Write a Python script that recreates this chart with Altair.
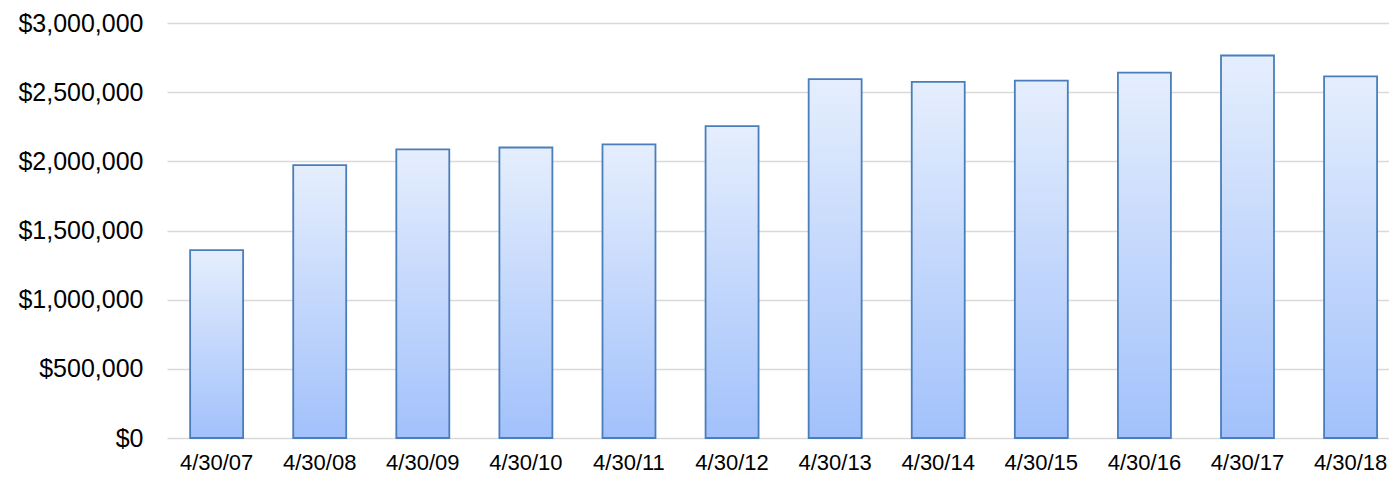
import altair as alt
import pandas as pd

# values
dates = ["4/30/07", "4/30/08", "4/30/09", "4/30/10", "4/30/11", "4/30/12",
         "4/30/13", "4/30/14", "4/30/15", "4/30/16", "4/30/17", "4/30/18"]
amounts = [1358000, 1973000, 2086000, 2100000, 2122000, 2254000,
           2595000, 2574000, 2584000, 2641000, 2765000, 2614000]
y_ticks = [0, 500000, 1000000, 1500000, 2000000, 2500000, 3000000]

df = pd.DataFrame({"date": dates, "amount": amounts})

fill = alt.Gradient(
    gradient="linear",
    stops=[
        alt.GradientStop(color="#e5eefd", offset=0),
        alt.GradientStop(color="#a2c1fb", offset=1),
    ],
    x1=0, y1=0, x2=0, y2=1,
)

chart = alt.Chart(df).mark_bar(
    color=fill,
    stroke="#4a7ebb",
    strokeWidth=1.8,
).encode(
    x=alt.X(
        "date:N",
        sort=None,
        title=None,
        scale=alt.Scale(paddingInner=0.486, paddingOuter=0.17, align=0.66),
        axis=alt.Axis(
            labelAngle=0,
            labelFont="Liberation Sans",
            labelFontSize=22,
            labelColor="#000000",
            labelPadding=14,
            ticks=False,
            domain=False,
            grid=False,
        ),
    ),
    y=alt.Y(
        "amount:Q",
        title=None,
        scale=alt.Scale(domain=[0, 3000000], nice=False),
        axis=alt.Axis(
            values=y_ticks,
            format="$,.0f",
            labelFont="Liberation Sans",
            labelFontSize=25,
            labelColor="#000000",
            labelPadding=24,
            ticks=False,
            domain=False,
            gridColor="#d9d9d9",
            gridWidth=1.5,
        ),
    ),
).properties(
    width=1222,
    height=415,
    autosize=alt.AutoSizeParams(type="none"),
    padding={"left": 159, "top": 15, "right": 0, "bottom": 38},
).configure_view(
    stroke=None
)

chart.save("out.html", embed_options={"renderer": "svg", "actions": False})
